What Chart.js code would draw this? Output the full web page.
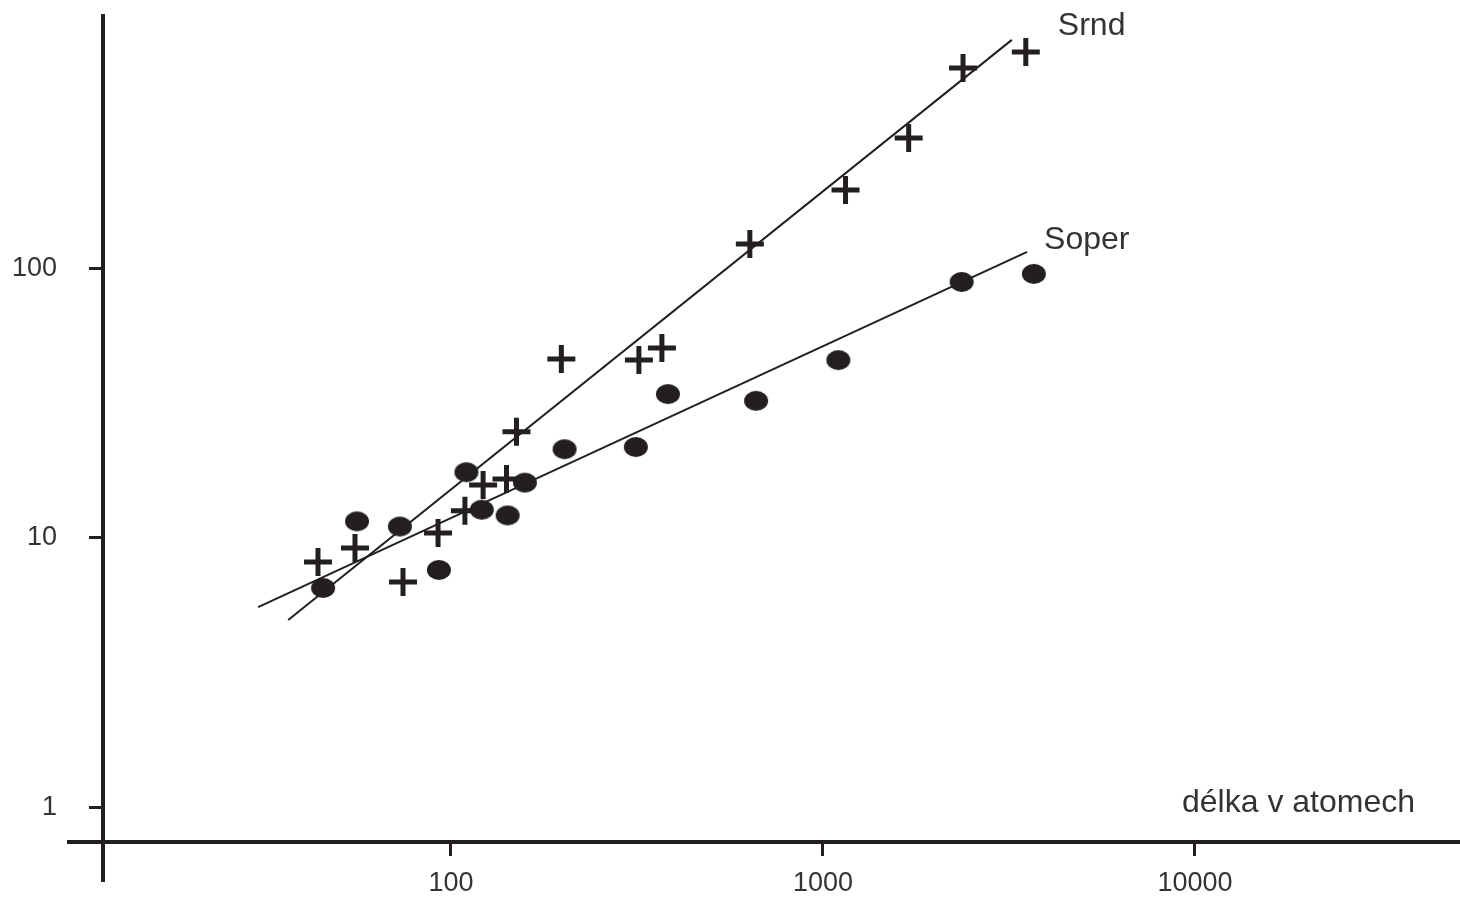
<!DOCTYPE html>
<html lang="cs">
<head>
<meta charset="utf-8">
<title>Srnd / Soper</title>
<script src="https://cdn.jsdelivr.net/npm/chart.js@4/dist/chart.umd.min.js"></script>
<style>
  html, body { margin: 0; padding: 0; background: #fff; }
  canvas { display: block; }
</style>
</head>
<body>
<canvas id="chart" width="1460" height="900"></canvas>
<script>
'use strict';

// measured points, x = délka v atomech
const srndX = [43.9, 55.2, 74.3, 92.3, 109, 122, 141, 150, 198, 320, 369, 636, 1150, 1700, 2380, 3510];
const srndY = [8.13, 9.16, 6.85, 10.4, 12.6, 15.7, 16.5, 24.7, 46.0, 45.6, 50.6, 123, 195, 304, 553, 634];
const soperX = [45.3, 55.9, 72.9, 92.8, 110, 121, 142, 158, 202, 314, 383, 661, 1100, 2360, 3690];
const soperY = [6.51, 11.5, 11.0, 7.59, 17.5, 12.7, 12.1, 16.0, 21.3, 21.7, 34.1, 32.2, 45.6, 88.9, 95.2];

// fitted lines (end points only)
const srndFitX = [36.5, 3220];
const srndFitY = [4.95, 703];
const soperFitX = [30.3, 3540];
const soperFitY = [5.53, 115];

const xTicks = [100, 1000, 10000];
const yTicks = [1, 10, 100];
const seriesNames = ['Srnd', 'Soper'];
const axisName = 'délka v atomech';

const ink = '#231f20';
const textInk = '#333333';
const fontFamily = "'Liberation Sans', Arial, sans-serif";

function pairs(xs, ys) {
  return xs.map((x, i) => ({x: x, y: ys[i]}));
}

//filled ellipse used as the Soper marker
function dotImage() {
  let c = document.createElement('canvas');
  c.width = 26;
  c.height = 22;
  let g = c.getContext('2d');
  g.fillStyle = ink;
  g.beginPath();
  g.ellipse(13, 11, 12, 10, 0, 0, Math.PI * 2);
  g.fill();
  return c;
}

//axes cross each other and run a bit past the plot
const crossAxes = {
  id: 'crossAxes',
  afterDraw(chart) {
    let ctx = chart.ctx;
    let a = chart.chartArea;
    ctx.save();
    ctx.strokeStyle = ink;
    ctx.lineWidth = 4;
    ctx.beginPath();
    ctx.moveTo(a.left, a.top);
    ctx.lineTo(a.left, a.bottom + 40);
    ctx.moveTo(a.left - 36, a.bottom);
    ctx.lineTo(a.right, a.bottom);
    ctx.stroke();
    ctx.restore();
  }
};

//series names next to the line ends, axis name above the x axis
const lineNames = {
  id: 'lineNames',
  afterDatasetsDraw(chart, args, opts) {
    let ctx = chart.ctx;
    let xs = chart.scales.x;
    let ys = chart.scales.y;
    let a = chart.chartArea;
    ctx.save();
    ctx.fillStyle = textInk;
    ctx.font = '32px ' + fontFamily;
    ctx.textBaseline = 'alphabetic';
    ctx.textAlign = 'left';
    for (let i = 0; i < seriesNames.length; i++) {
      let at = opts.anchors[i];
      ctx.fillText(seriesNames[i], xs.getPixelForValue(at[0]), ys.getPixelForValue(at[1]));
    }
    ctx.textAlign = 'right';
    ctx.fillText(axisName, a.right - 45, a.bottom - 30);
    ctx.restore();
  }
};

let ctx = document.getElementById('chart').getContext('2d');

// eslint-disable-next-line no-unused-vars
let chart = new Chart(ctx, {
  type: 'scatter',
  data: {
    datasets: [{
      label: 'Srnd',
      data: pairs(srndX, srndY),
      pointStyle: 'cross',
      pointRadius: 14,
      borderWidth: 5,
      borderColor: ink,
      backgroundColor: ink
    }, {
      label: 'Soper',
      data: pairs(soperX, soperY),
      pointStyle: dotImage(),
      borderColor: ink,
      backgroundColor: ink
    }, {
      label: 'Srnd fit',
      data: pairs(srndFitX, srndFitY),
      showLine: true,
      pointRadius: 0,
      borderWidth: 2,
      borderColor: ink
    }, {
      label: 'Soper fit',
      data: pairs(soperFitX, soperFitY),
      showLine: true,
      pointRadius: 0,
      borderWidth: 2,
      borderColor: ink
    }]
  },
  options: {
    responsive: false,
    animation: false,
    layout: {autoPadding: false, padding: {top: 14, left: 0, right: 0, bottom: 0}},
    plugins: {
      legend: {display: false},
      tooltip: {enabled: false},
      lineNames: {anchors: [[4280, 733], [3930, 118]]}
    },
    scales: {
      x: {
        type: 'logarithmic',
        bounds: 'data', //keep min/max as given, no rounding to ticks
        min: 11.6,
        max: 51600,
        afterFit: (s) => {
          s.height = 58;
          s.paddingLeft = 0; //labels are far from the ends, no need for room
          s.paddingRight = 0;
        },
        afterBuildTicks: (s) => { s.ticks = xTicks.map(v => ({value: v})); },
        border: {display: false},
        grid: {drawOnChartArea: false, drawTicks: true, tickLength: 14, lineWidth: 3, color: ink},
        ticks: {
          padding: 14,
          color: textInk,
          maxRotation: 0,
          autoSkip: false,
          font: {family: fontFamily, size: 27, lineHeight: 1},
          callback: (v) => String(v)
        }
      },
      y: {
        type: 'logarithmic',
        bounds: 'data',
        min: 0.743,
        max: 877,
        afterFit: (s) => {
          s.width = 103;
          s.paddingTop = 0;
          s.paddingBottom = 0;
        },
        afterBuildTicks: (s) => { s.ticks = yTicks.map(v => ({value: v})); },
        border: {display: false},
        grid: {drawOnChartArea: false, drawTicks: true, tickLength: 14, lineWidth: 3, color: ink},
        ticks: {
          padding: 32,
          color: textInk,
          autoSkip: false,
          font: {family: fontFamily, size: 27, lineHeight: 1},
          callback: (v) => String(v)
        }
      }
    }
  },
  plugins: [crossAxes, lineNames]
});
</script>
</body>
</html>
